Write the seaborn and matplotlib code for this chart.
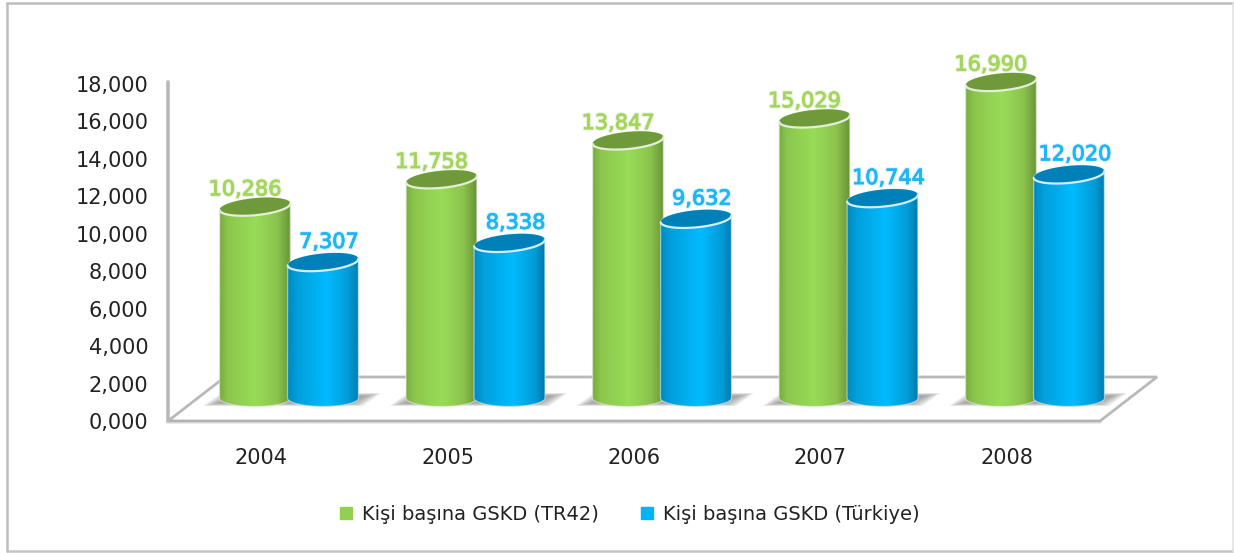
import matplotlib
matplotlib.use('Agg')
import matplotlib.pyplot as plt
import matplotlib.patheffects as pe
from matplotlib.colors import LinearSegmentedColormap
from matplotlib.lines import Line2D
from matplotlib.patches import Polygon
from matplotlib.path import Path
from matplotlib.transforms import IdentityTransform
import numpy as np
import pandas as pd
import seaborn as sns

years = ['2004', '2005', '2006', '2007', '2008']
tr42_values = [10286, 11758, 13847, 15029, 16990]
turkiye_values = [7307, 8338, 9632, 10744, 12020]
series_names = ['Kişi başına GSKD (TR42)', 'Kişi başına GSKD (Türkiye)']
y_ticks = [0, 2000, 4000, 6000, 8000, 10000, 12000, 14000, 16000, 18000]
y_tick_labels = ['0,000', '2,000', '4,000', '6,000', '8,000', '10,000',
                 '12,000', '14,000', '16,000', '18,000']

W, H = 1234, 553
COLORS = ['#92D050', '#00B4F5']
LABEL_COLORS = ['#A5D55F', '#1FB6F7']
HALO_COLORS = ['#E8F4DC', '#D8F1FC']
CAP_COLORS = ['#6F9A3A', '#0080B8']
RIM_COLORS = ['#E4EDD9', '#D5EDF7']
GRADIENTS = [
    [(0, '#78A93F'), (0.12, '#8CC64D'), (0.5, '#98DC57'), (0.8, '#8CC44D'), (1, '#668F36')],
    [(0, '#0086BF'), (0.15, '#00A0DC'), (0.55, '#00BBFF'), (0.85, '#009BD6'), (1, '#0075A8')],
]

sns.set_theme(style="white")
plt.rcParams['font.family'] = ['DejaVu Sans']


def px_box(left, top, right, bottom):
    # Pixel box measured from the top left of the image, in figure fractions
    return [left / W, 1 - bottom / H, (right - left) / W, (bottom - top) / H]


def ellipse_points(cx, cy, a, b, start, stop, tilt=5.5, n=40):
    t = np.linspace(start, stop, n)
    tilt = np.radians(tilt)
    x = cx + a * np.cos(t) * np.cos(tilt) - b * np.sin(t) * np.sin(tilt)
    y = cy + a * np.cos(t) * np.sin(tilt) + b * np.sin(t) * np.cos(tilt)
    return np.column_stack([x, y])


fig = plt.figure(figsize=(W / 100, H / 100), dpi=100, facecolor='white')

# Outer frame, the right side is much fainter than the others
frame = [((6.5, 6.5), (2.5, 551), '#BDBDBD'), ((6.5, 1233), (2.5, 2.5), '#BDBDBD'),
         ((6.5, 1233), (551, 551), '#C4C4C4'), ((1233, 1233), (2.5, 551), '#E2E2E2')]
for xs, ys, c in frame:
    fig.add_artist(Line2D([x / W for x in xs], [1 - y / H for y in ys],
                          transform=fig.transFigure, color=c, linewidth=1.8))

# Front plane: value axis, year labels and the floor
front = fig.add_axes(px_box(168, 84, 1100, 421), facecolor='none')
front.set_xlim(-0.5, 4.5)
front.set_ylim(0, 18000)
front.set_xticks(range(len(years)), years)
front.set_yticks(y_ticks, y_tick_labels)
front.tick_params(axis='y', length=0, pad=14, labelsize=15, labelcolor='#222222')
front.tick_params(axis='x', length=0, pad=19.5, labelsize=15, labelcolor='#222222')
sns.despine(ax=front, left=True, bottom=True, top=True, right=True)

depth_x, depth_y = 57 / 932, 44 / 337
front.add_line(Line2D([0, 1], [-0.004, -0.004], transform=front.transAxes, color='#999999',
                      linewidth=3, alpha=0.2, clip_on=False))
floor = Polygon([(0, 0), (1, 0), (1 + depth_x, depth_y), (depth_x, depth_y)], closed=True,
                transform=front.transAxes, facecolor='white', edgecolor='#B9B9B9',
                linewidth=2, clip_on=False, joinstyle='miter')
front.add_patch(floor)
front.add_line(Line2D([0, 0], [0, 1.006], transform=front.transAxes, color='#B9B9B9',
                      linewidth=2.6, clip_on=False))

# Bars sit further back, half way along the floor depth
df = pd.DataFrame({
    'Year': years * 2,
    'Series': [series_names[0]] * 5 + [series_names[1]] * 5,
    'Value': tr42_values + turkiye_values,
})

ax = fig.add_axes(px_box(195.75, 40, 1128.25, 430), facecolor='none', zorder=3)
sns.barplot(data=df, x='Year', y='Value', hue='Series', hue_order=series_names,
            palette=COLORS, saturation=1, width=0.729, gap=0, legend=False, ax=ax)
ax.set_xlim(-0.5, 4.5)
# 18.6 px per 1000, zero at pixel row 398
ylim = (-(430 - 398) / 0.0186, (398 - 40) / 0.0186)
ax.set_ylim(*ylim)
ax.axis('off')
fig.canvas.draw()

bars = sorted(ax.patches, key=lambda p: p.get_x())
to_px = ax.transData.transform
base_y = to_px((0, 0))[1]

# Soft shadows on the floor, one per year, built from shrinking layers
for p in bars[::2]:
    left = to_px((p.get_x(), 0))[0]
    for shrink in [0, 2, 4, 6, 8, 10, 12, 14]:
        ay = shrink * 0.2
        shadow = Polygon([(left - 18 + shrink, base_y - 8 + ay), (left + 142 - shrink, base_y - 8 + ay),
                          (left + 160 - shrink, base_y + 5 - ay), (left + shrink, base_y + 5 - ay)],
                         closed=True, transform=IdentityTransform(), facecolor='#808080',
                         edgecolor='none', alpha=0.13, zorder=1)
        ax.add_patch(shadow)

for i, p in enumerate(bars):
    k = i % 2
    x0, x1 = p.get_x(), p.get_x() + p.get_width()
    mid = (x0 + x1) / 2
    top = p.get_height()
    cx = to_px((mid, 0))[0]
    top_y = to_px((0, top))[1]
    a, b = 35.5, 8.5

    body = np.vstack([ellipse_points(cx, top_y, a, b, 0, np.pi),
                      ellipse_points(cx, base_y, a, b, np.pi, 2 * np.pi, tilt=0)])
    clip = Path(np.vstack([body, body[:1]]), closed=True)

    cmap = LinearSegmentedColormap.from_list('cyl', GRADIENTS[k])
    pad = (x1 - x0) * 0.03
    im = ax.imshow(np.linspace(0, 1, 256)[None, :], cmap=cmap, aspect='auto',
                   extent=(x0 - pad, x1 + pad, -1500, top + 1500), zorder=2 + i * 0.01,
                   interpolation='bilinear')
    im.set_clip_path(clip, IdentityTransform())

    rim_z = 2.005 + i * 0.01
    ax.add_patch(Polygon(body, closed=True, transform=IdentityTransform(), fill=False,
                         edgecolor=RIM_COLORS[k], linewidth=0.9, alpha=0.6, zorder=rim_z))
    cap = ellipse_points(cx, top_y, a, b, 0, 2 * np.pi, n=80)
    ax.add_patch(Polygon(cap, closed=True, transform=IdentityTransform(), facecolor=CAP_COLORS[k],
                         edgecolor='none', zorder=rim_z))
    rim = ellipse_points(cx, top_y, a, b, np.pi, 2 * np.pi)
    ax.add_line(Line2D(rim[:, 0], rim[:, 1], transform=IdentityTransform(), color=RIM_COLORS[k],
                       linewidth=1.6, zorder=rim_z + 0.001))

    p.set_visible(False)

    offset = (-7.2, 12.5) if k == 0 else (4.3, 14.5)
    ax.annotate(f'{top:,.0f}', (mid, top), xytext=offset, textcoords='offset points',
                ha='center', va='center', fontsize=15, color=LABEL_COLORS[k], zorder=6,
                path_effects=[pe.withStroke(linewidth=2.2, foreground=HALO_COLORS[k]),
                              pe.withStroke(linewidth=0.6, foreground=LABEL_COLORS[k])],
                annotation_clip=False)

ax.set_xlim(-0.5, 4.5)
ax.set_ylim(*ylim)

handles = [Line2D([], [], linestyle='none', marker='s', markersize=8, color=c) for c in COLORS]
fig.legend(handles, series_names, loc='center', bbox_to_anchor=(628 / W, 1 - 514 / H), ncol=2,
           frameon=False, fontsize=14, labelcolor='#222222', columnspacing=2.0,
           handlelength=1, handletextpad=0.3)

plt.savefig('out.png', dpi=100)
plt.close()
